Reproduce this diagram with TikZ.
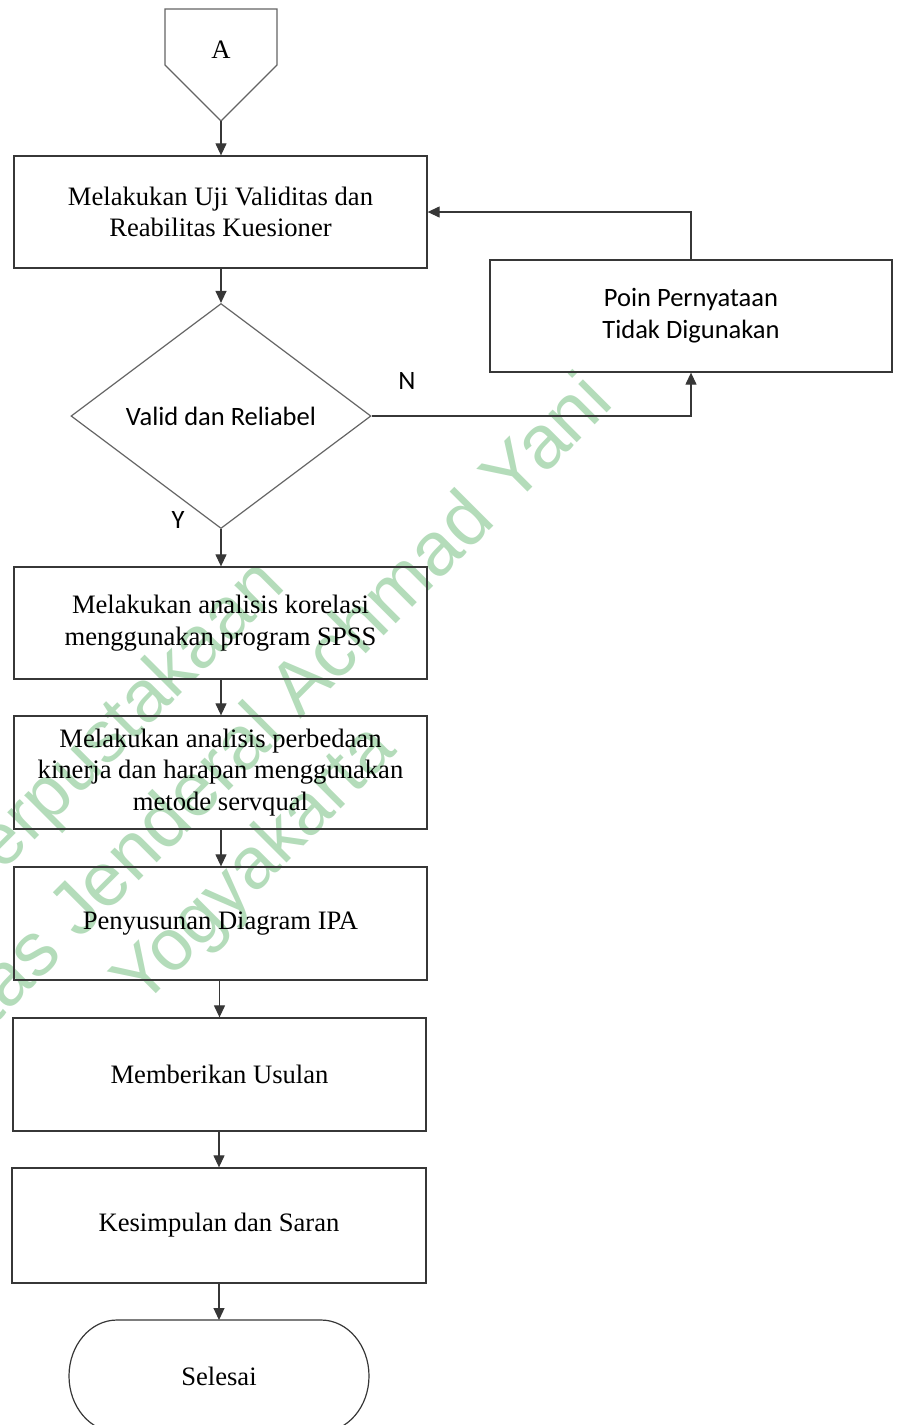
\documentclass[tikz,border=0pt]{standalone}
\usepackage{fontspec}
\setmainfont{Liberation Serif}
\newfontfamily\calfont{Carlito}
\newfontfamily\wmfont{Liberation Sans}
\usetikzlibrary{arrows.meta,shapes.geometric}
\definecolor{wmcol}{RGB}{180,220,186}
\definecolor{ln}{RGB}{55,55,55}
\definecolor{lngray}{RGB}{100,100,100}
\newcommand\boxfont{\fontsize{26.6}{31.5}\selectfont}
\newcommand\sansfont{\calfont\fontsize{26.5}{32}\selectfont}
\begin{document}
\begin{tikzpicture}[x=1pt,y=-1pt,
  box/.style={draw=ln, line width=1.3pt, minimum width=413pt, minimum height=112pt,
    inner sep=0pt, align=center, font=\boxfont},
  sbox/.style={draw=ln, line width=1.3pt, minimum width=402pt, minimum height=112pt,
    inner sep=0pt, align=center, font=\sansfont},
  arr/.style={draw=ln, line width=1.2pt, -{Triangle[length=12pt,width=11pt]}},
  wm/.style={text=wmcol, font=\wmfont\fontsize{73}{80}\selectfont, inner sep=0pt,
    anchor=base east, rotate=45},
  lbl/.style={font=\sansfont, inner sep=0pt}]
\useasboundingbox (0,0) rectangle (902,1425);
\clip (0,0) rectangle (902,1425);

% watermark
\node[wm] (wm1) at (287,588) {Perpustakaan};
\node[wm, font=\wmfont\fontsize{76}{80}\selectfont] (wm2) at (616,404) {Universitas Jenderal Achmad Yani};
\node[wm] (wm3) at (398,752) {Yogyakarta};

% off-page connector A
\coordinate (pA) at (221,121);
\draw[draw=lngray, line width=1.2pt, line join=miter]
  (165,9) -- (277,9) -- (277,65) -- (pA) -- (165,65) -- cycle;
\node[font=\boxfont] (A) at (221,50) {A};

% process boxes
\node[box] (b1) at (220.5,212) {Melakukan Uji Validitas dan\\Reabilitas Kuesioner};
\node[diamond, draw=lngray, line width=1.2pt, aspect=1.333, minimum width=300pt,
  minimum height=225pt, inner sep=0pt, font=\sansfont] (d) at (221,416) {Valid dan Reliabel};
\node[sbox] (r) at (691,316) {Poin Pernyataan\\Tidak Digunakan};
\node[box] (b3) at (220.5,623) {Melakukan analisis korelasi\\menggunakan program SPSS};
\node[box, minimum height=113pt] (b4) at (220.5,772.5) {Melakukan analisis perbedaan\\kinerja dan harapan menggunakan\\metode servqual};
\node[box, minimum height=113pt] (b5) at (220.5,923.5) {Penyusunan Diagram IPA};
\node[box, minimum height=113pt] (b6) at (219.5,1074.5) {Memberikan Usulan};
\node[box, minimum width=414pt, minimum height=115pt] (b7) at (219,1225.5) {Kesimpulan dan Saran};

% terminator
\node[font=\boxfont] (end) at (219,1376) {Selesai};
\coordinate (endtop) at (219,1320);
\draw[draw=ln, line width=1.2pt]
  (117,1320) -- (321,1320) arc[start angle=-90, end angle=90, x radius=48, y radius=56]
  -- (117,1432) arc[start angle=90, end angle=270, x radius=48, y radius=56] -- cycle;

% labels
\node[lbl] (N) at (407,381) {N};
\node[lbl] (Y) at (178,520) {Y};

% connectors
\draw[arr] (pA) -- (pA |- b1.north);
\draw[arr] (pA |- b1.south) -- (d.north);
\draw[arr] (d.east) -| (r.south);
\draw[arr] (r.north) |- (b1.east);
\draw[arr] (d.south) -- (d.south |- b3.north);
\draw[arr] (d.south |- b3.south) -- (d.south |- b4.north);
\draw[arr] (d.south |- b4.south) -- (d.south |- b5.north);
\draw[arr] (b6.north |- b5.south) -- (b6.north);
\draw[arr] (b7.north |- b6.south) -- (b7.north);
\draw[arr] (b7.south) -- (endtop);
\end{tikzpicture}
\end{document}
